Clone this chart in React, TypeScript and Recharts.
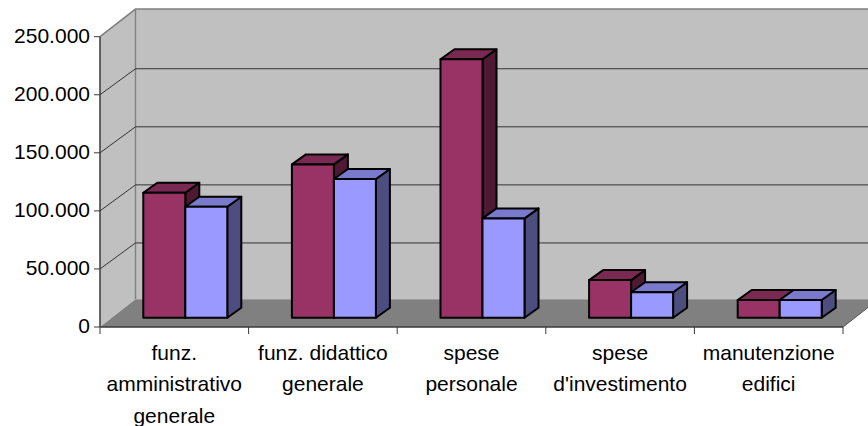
import React from "react";
import { BarChart, Bar, XAxis, YAxis, CartesianGrid } from "recharts";

const categories: string[][] = [
  ["funz.", "amministrativo", "generale"],
  ["funz. didattico", "generale"],
  ["spese", "personale"],
  ["spese", "d'investimento"],
  ["manutenzione", "edifici"],
];
const seriesA = [107600, 132000, 222600, 32400, 15200];
const seriesB = [95500, 119400, 85500, 21900, 15200];
const yTicks = [0, 50000, 100000, 150000, 200000, 250000];

const W = 868, H = 426;
const L = 100, R = 843, T = 36.7, B = 327;
const DX = 35.5, DY = 27.7, GRID_DY = 26;
const BAR_OFF_X = 11.2, BAR_OFF_Y = 9.3;
const BAR_DX = 14, BAR_DY = 10;
const FONT = "'Liberation Sans', Arial, sans-serif";
const FS = 21;
const AXIS = "#3a3a3a";
const EDGE = "#808080";

const rows = categories.map((c, i) => ({ name: c.join(" "), a: seriesA[i], b: seriesB[i] }));

const pts = (p: number[][]) => p.map((q) => q.join(",")).join(" ");

const Walls = () => (
  <g>
    <polygon points={pts([[L + DX, T - DY], [W + 20, T - DY], [W + 20, B - DY], [L + DX, B - DY]])} fill="#C0C0C0" />
    <polygon points={pts([[L, T], [L + DX, T - DY], [L + DX, B - DY], [L, B]])} fill="#C0C0C0" />
    <polygon points={pts([[L, B], [R, B], [R + DX, B - DY], [L + DX, B - DY]])} fill="#808080" />
    <polyline points={pts([[L, T], [L + DX, T - DY], [W + 20, T - DY]])} fill="none" stroke={EDGE} strokeWidth={1.6} />
    <line x1={L + DX} y1={T - DY} x2={L + DX} y2={B - DY} stroke={EDGE} strokeWidth={1.4} />
    <line x1={R} y1={B} x2={R + DX} y2={B - DY} stroke="#555" strokeWidth={1} />
  </g>
);

const gridLine = (props: any) => {
  const { y1, key, index } = props;
  const skip = Math.abs(y1 - T) < 1 || Math.abs(y1 - B) < 1;
  return (
    <g key={key}>
      {index === 0 && <Walls />}
      {!skip && (
        <>
          <line x1={L} y1={y1} x2={L + DX} y2={y1 - GRID_DY} stroke="#222" strokeWidth={0.9} />
          <line x1={L + DX} y1={y1 - GRID_DY} x2={W + 20} y2={y1 - GRID_DY} stroke="#333" strokeWidth={1} />
        </>
      )}
    </g>
  );
};

const makeBar = (front: string, top: string, side: string) => (props: any) => {
  const { x, y, width, height } = props;
  const x0 = x + BAR_OFF_X, y0 = y - BAR_OFF_Y, x1 = x0 + width, y1 = y0 + height;
  const common = { stroke: "#000", strokeWidth: 2, strokeLinejoin: "round" as const };
  return (
    <g>
      <polygon points={pts([[x1, y0], [x1 + BAR_DX, y0 - BAR_DY], [x1 + BAR_DX, y1 - BAR_DY], [x1, y1]])} fill={side} {...common} />
      <polygon points={pts([[x0, y0], [x0 + BAR_DX, y0 - BAR_DY], [x1 + BAR_DX, y0 - BAR_DY], [x1, y0]])} fill={top} {...common} />
      <rect x={x0} y={y0} width={width} height={height} fill={front} {...common} />
    </g>
  );
};

const CatTick = (props: any) => {
  const { x, index } = props;
  const band = (R - L) / categories.length;
  const lines = categories[index] || [];
  return (
    <g>
      <line x1={x - band / 2} x2={x - band / 2} y1={B} y2={B + 7} stroke={AXIS} strokeWidth={1} />
      {index === categories.length - 1 && (
        <line x1={x + band / 2} x2={x + band / 2} y1={B} y2={B + 7} stroke={AXIS} strokeWidth={1} />
      )}
      {lines.map((t: string, i: number) => (
        <text key={i} x={x} y={B + 32.5 + i * 31.5} textAnchor="middle" fontSize={FS} fontFamily={FONT} fill="#000">
          {t}
        </text>
      ))}
    </g>
  );
};

const fmt = (v: number) => String(v).replace(/\B(?=(\d{3})+$)/g, ".");

export default function App() {
  return (
    <div style={{ position: "absolute", left: 0, top: 0, width: W, height: H, overflow: "hidden", background: "#fff" }}>
      <BarChart
        width={W}
        height={H}
        data={rows}
        margin={{ top: T, right: W - R, bottom: 0, left: 0 }}
        barCategoryGap="21.6%"
        barGap={0}
      >
        <CartesianGrid vertical={false} horizontal={gridLine} syncWithTicks />
        <XAxis
          dataKey="name"
          height={H - B}
          interval={0}
          tickLine={false}
          axisLine={{ stroke: AXIS, strokeWidth: 1.5 }}
          tick={<CatTick />}
        />
        <YAxis
          width={L}
          domain={[0, 250000]}
          ticks={yTicks}
          tickSize={6}
          tickMargin={4}
          tickLine={{ stroke: AXIS }}
          axisLine={{ stroke: AXIS, strokeWidth: 1.5 }}
          tickFormatter={fmt}
          tick={{ fontSize: FS, fontFamily: FONT, fill: "#000", dy: -1 }}
        />
        <Bar dataKey="a" isAnimationActive={false} shape={makeBar("#993366", "#7A2952", "#4D1933")} />
        <Bar dataKey="b" isAnimationActive={false} shape={makeBar("#9999FF", "#7A7ACC", "#4D4D80")} />
      </BarChart>
    </div>
  );
}
